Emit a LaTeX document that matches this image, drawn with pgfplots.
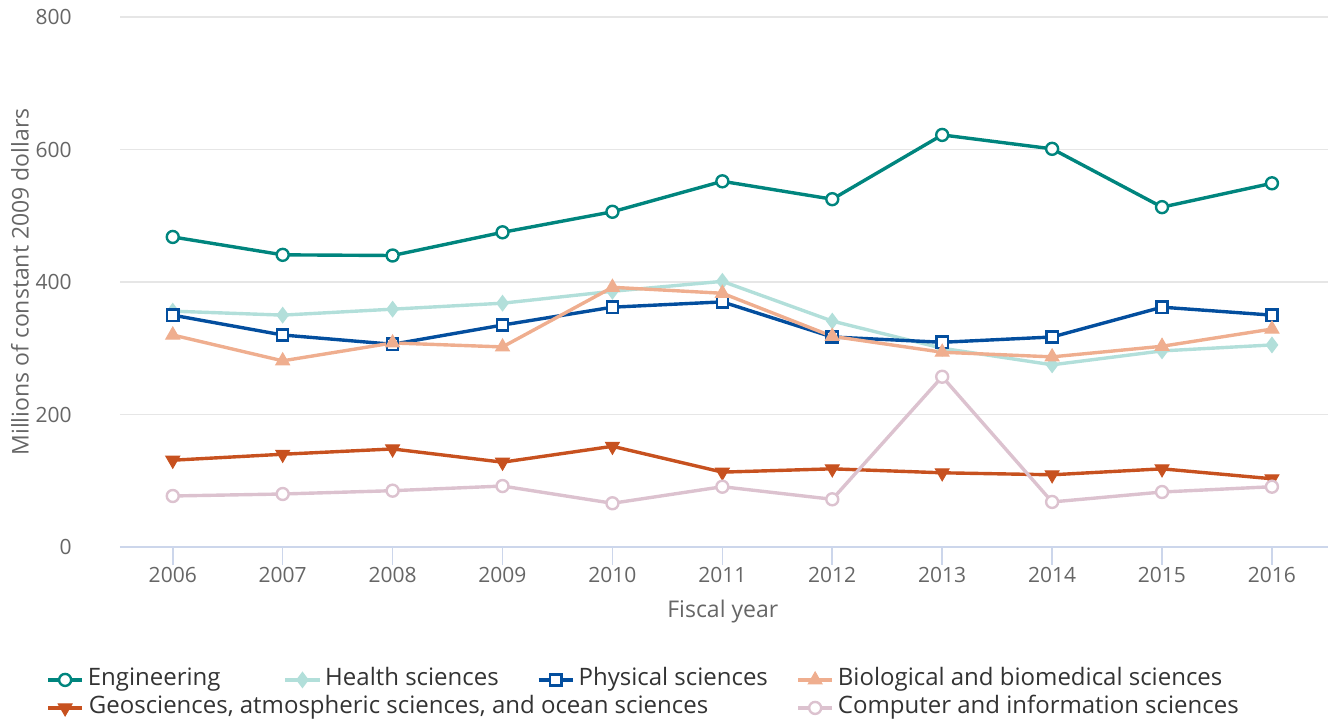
\documentclass[border=0pt]{standalone}
\usepackage{fontspec}
\setmainfont{Open Sans}
\usepackage{pgfplots}
\pgfplotsset{compat=1.18}
\definecolor{eng}{HTML}{00857E}
\definecolor{health}{HTML}{B2DFDA}
\definecolor{phys}{HTML}{034E9E}
\definecolor{bio}{HTML}{EFAE8F}
\definecolor{geo}{HTML}{C7511F}
\definecolor{comp}{HTML}{DCC2CF}
\definecolor{axisc}{HTML}{CCD6EB}
\definecolor{gridc}{HTML}{E6E6E6}
\definecolor{ticktext}{HTML}{666666}
\definecolor{legtext}{HTML}{333333}
\begin{document}
\begin{tikzpicture}
\useasboundingbox (-60pt,-87pt) rectangle (605.5pt,273.5pt);
\begin{axis}[
  scale only axis, width=604pt, height=265pt,
  xmin=2005.52, xmax=2016.51, ymin=0, ymax=800,
  xtick={2006,2007,...,2016}, ytick={0,200,...,800},
  /pgf/number format/assume math mode=true,
  x tick label style={/pgf/number format/1000 sep=},
  axis line style={draw=none},
  tick align=outside, major tick length=9pt,
  xtick pos=left,
  xtick style={color=axisc, line width=0.75pt},
  ytick style={draw=none},
  ymajorgrids, grid style={color=gridc, line width=0.6pt},
  extra y ticks={0}, extra y tick labels={},
  extra y tick style={grid style={color=axisc, line width=0.75pt}},
  tick label style={font=\fontsize{10.5}{12}\selectfont, color=ticktext},
  yticklabel style={inner sep=0pt, anchor=east, xshift=-15pt},
  xticklabel style={inner sep=0pt, anchor=north, yshift=-1pt},
  xlabel={Fiscal year},
  ylabel={Millions of constant 2009 dollars},
  label style={font=\fontsize{11.5}{13}\selectfont, color=ticktext},
  x label style={at={(axis description cs:0.499,-0.1226)}, anchor=center},
  y label style={at={(axis description cs:-0.0828,0.500)}, anchor=center},
  legend columns=4,
  legend style={
    at={(axis description cs:-0.0613,-0.2274)}, anchor=north west,
    draw=none, fill=none, inner xsep=0pt, inner ysep=0pt,
    font=\fontsize{12}{14}\selectfont, text=legtext,
    nodes={inner sep=0pt, text height=9pt, text depth=3pt, anchor=west},
    /tikz/every odd column/.append style={column sep=2pt},
    /tikz/every even column/.append style={column sep=0pt},
    /tikz/row sep=2pt,
  },
  legend cell align=left,
]
\addplot[color=eng, line width=1.7pt, mark=*, mark size=3pt, mark options={fill=white, line width=1.2pt}]
 coordinates {(2006,468) (2007,441) (2008,440) (2009,475) (2010,506) (2011,552) (2012,525) (2013,622) (2014,601) (2015,513) (2016,549)};
\addlegendentry{\makebox[97.9pt][l]{Engineering}}
\addplot[color=health, line width=1.7pt, mark=diamond*, mark size=3.6pt, mark options={line width=0.8pt}]
 coordinates {(2006,356) (2007,350) (2008,359) (2009,368) (2010,386) (2011,401) (2012,341) (2013,300) (2014,275) (2015,296) (2016,305)};
\addlegendentry{\makebox[105.9pt][l]{Health sciences}}
\addplot[color=phys, line width=1.7pt, mark=square*, mark size=2.8pt, mark options={fill=white, line width=1.2pt}]
 coordinates {(2006,350) (2007,320) (2008,306) (2009,335) (2010,362) (2011,370) (2012,317) (2013,309) (2014,317) (2015,362) (2016,350)};
\addlegendentry{\makebox[108.9pt][l]{Physical sciences}}
\addplot[color=bio, line width=1.7pt, mark=triangle*, mark size=4pt, mark options={line width=0.5pt}]
 coordinates {(2006,320) (2007,281) (2008,308) (2009,302) (2010,392) (2011,383) (2012,318) (2013,294) (2014,287) (2015,303) (2016,329)};
\addlegendentry{Biological and biomedical sciences}
\addplot[color=geo, line width=1.7pt, mark=triangle*, mark size=4pt, mark options={rotate=180, line width=0.5pt}]
 coordinates {(2006,131) (2007,140) (2008,148) (2009,128) (2010,152) (2011,113) (2012,118) (2013,112) (2014,109) (2015,118) (2016,103)};
\addlegendentry{\rlap{Geosciences, atmospheric sciences, and ocean sciences}}
\addlegendimage{empty legend}
\addlegendentry{}
\addlegendimage{empty legend}
\addlegendentry{}
\addplot[color=comp, line width=1.7pt, mark=*, mark size=3pt, mark options={fill=white, line width=1.2pt}]
 coordinates {(2006,77) (2007,80) (2008,85) (2009,92) (2010,66) (2011,91) (2012,72) (2013,257) (2014,68) (2015,83) (2016,91)};
\addlegendentry{Computer and information sciences}
\end{axis}
\end{tikzpicture}
\end{document}
